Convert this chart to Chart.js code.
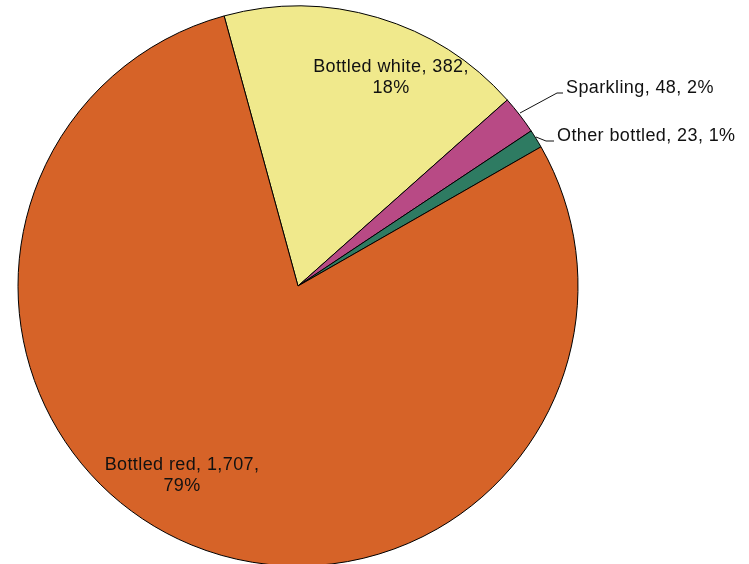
<!DOCTYPE html>
<html>
<head>
<meta charset="utf-8">
<script src="https://cdn.jsdelivr.net/npm/chart.js@4.4.1/dist/chart.umd.min.js"></script>
<style>
    html, body { margin: 0; padding: 0; background: #fff; overflow: hidden; }
    #wrap { width: 749px; height: 564px; position: relative; }
</style>
</head>
<body>
<div id="wrap"><canvas id="pieChart"></canvas></div>
<script>
// ================================================
// Bottled wine volumes - pie chart
// ================================================

const categories = ['Bottled white', 'Sparkling', 'Other bottled', 'Bottled red'];
const volumes = [382, 48, 23, 1707];
const sliceColors = ['#F0E98C', '#B84A85', '#2E7B62', '#D66328'];

// label layout: text anchor (center of text block) and optional leader line
const labelLayout = [
    { x: 391, y: 67, align: 'center', lines: 2 },
    { x: 566, y: 88, align: 'left', lines: 1, leader: [[520, 113], [557, 93], [563, 93]] },
    { x: 557, y: 136, align: 'left', lines: 1, leader: [[536, 137], [546, 141], [554, 141]] },
    { x: 182, y: 465, align: 'center', lines: 2 }
];

const total = volumes.reduce((a, b) => a + b, 0);

function fmt(n) {
    return n.toLocaleString('en-US');
}

function labelLines(i) {
    const pct = Math.round(volumes[i] / total * 100) + '%';
    if (labelLayout[i].lines === 2) {
        return [categories[i] + ', ' + fmt(volumes[i]) + ',', pct];
    }
    return [categories[i] + ', ' + fmt(volumes[i]) + ', ' + pct];
}

const sliceLabels = {
    id: 'sliceLabels',
    afterDatasetsDraw(chart) {
        const ctx = chart.ctx;
        ctx.save();
        ctx.font = '18px "Liberation Sans", Arial, sans-serif';
        ctx.letterSpacing = '0.4px';
        ctx.fillStyle = '#111';
        ctx.strokeStyle = '#111';
        ctx.lineWidth = 1;
        ctx.textBaseline = 'middle';
        labelLayout.forEach((lay, i) => {
            if (lay.leader) {
                ctx.beginPath();
                lay.leader.forEach((p, k) => k ? ctx.lineTo(p[0], p[1]) : ctx.moveTo(p[0], p[1]));
                ctx.stroke();
            }
            ctx.textAlign = lay.align;
            labelLines(i).forEach((line, k) => {
                ctx.fillText(line, lay.x, lay.y + k * 21);
            });
        });
        ctx.restore();
    }
};

const ctx = document.getElementById('pieChart').getContext('2d');
new Chart(ctx, {
    type: 'pie',
    data: {
        labels: categories,
        datasets: [{
            data: volumes,
            backgroundColor: sliceColors,
            borderColor: '#000',
            borderWidth: 1,
            borderAlign: 'center',
            radius: 280
        }]
    },
    options: {
        responsive: true,
        maintainAspectRatio: false,
        animation: false,
        rotation: -15.3,
        layout: { padding: { left: 18, right: 171, top: 8, bottom: 0 } },
        plugins: {
            legend: { display: false },
            tooltip: { enabled: false }
        }
    },
    plugins: [sliceLabels]
});
</script>
</body>
</html>
